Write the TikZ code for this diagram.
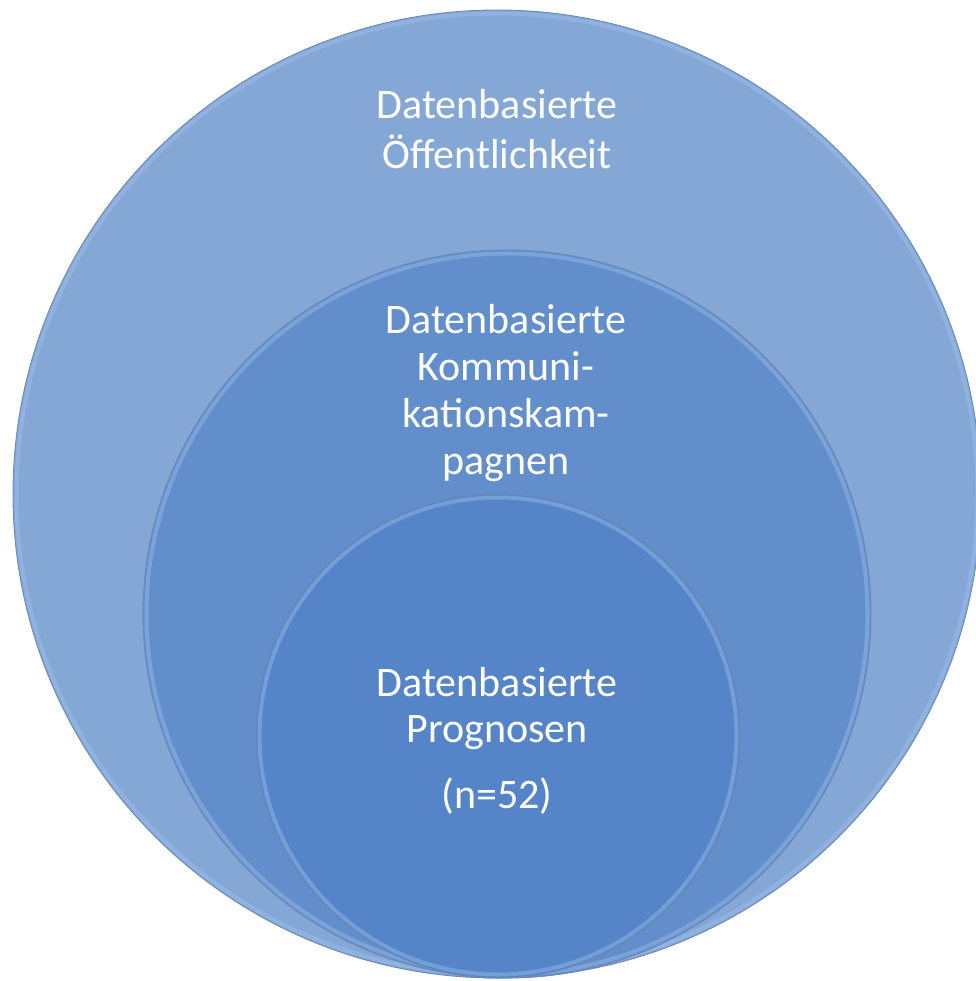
\documentclass[tikz,border=0pt]{standalone}
\usepackage{fontspec}
\setmainfont{Carlito}
\usepackage{tikz}
\usetikzlibrary{shapes,fit,calc,positioning}

\definecolor{outerblue}{RGB}{132,167,214}
\definecolor{midblue}{RGB}{98,142,203}
\definecolor{innerblue}{RGB}{85,133,200}
\definecolor{rimblue}{RGB}{160,196,242}
\definecolor{edgeblue}{RGB}{110,138,176}

\tikzset{
  disc/.style={circle, draw=edgeblue, line width=0.9pt, inner sep=0pt, outer sep=0pt},
  rim/.style={circle, draw=rimblue, line width=4pt, draw opacity=0.4, inner sep=0pt},
  caption/.style={text=white, align=center, font=\fontsize{42}{50}\selectfont}
}

\begin{document}
\begin{tikzpicture}[x=1pt,y=-1pt]

\useasboundingbox[fill=white] (0,0) rectangle (975,981);

% the three nested circles, all touching at the bottom
\node[disc, fill=outerblue, minimum size=968pt](outer) at (497,494) {};
\node[rim, minimum size=961pt] at (outer.center) {};

\node[disc, fill=midblue, minimum size=728pt](middle) at (507,614) {};
\node[rim, minimum size=721pt] at (middle.center) {};

\node[disc, fill=innerblue, minimum size=484pt](inner) at (498,736) {};
\node[rim, minimum size=477pt] at (inner.center) {};

% texts
\node[caption] (touter) at (497,129) {Datenbasierte\\Öffentlichkeit};
\node[caption, font=\fontsize{42}{47}\selectfont] (tmiddle) at (506,393) {Datenbasierte\\Kommuni-\\kationskam-\\pagnen};
\node[caption, font=\fontsize{42}{46}\selectfont] (tinner) at (497,741) {Datenbasierte\\Prognosen\\[20pt](n=52)};

\end{tikzpicture}
\end{document}
